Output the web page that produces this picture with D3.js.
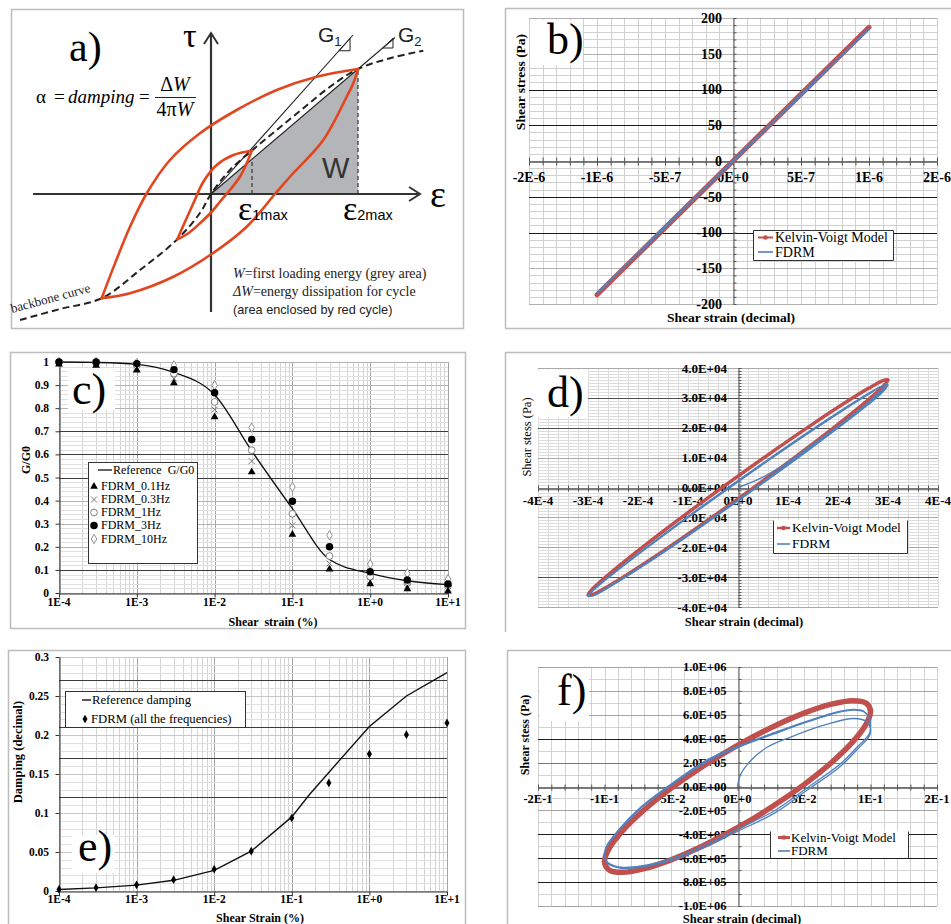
<!DOCTYPE html>
<html>
<head>
<meta charset="utf-8">
<title>hysteresis and damping figure</title>
<script src="https://cdnjs.cloudflare.com/ajax/libs/d3/7.8.5/d3.min.js"></script>
<style>
    body { margin: 0; background: #fff; }
    svg { display: block; }
    text { font-family: 'Liberation Serif', 'Times New Roman', serif; }
</style>
</head>
<body>
<svg id="fig" width="951" height="924"></svg>
<script>
// ==========================================================
// data

// panel a) sketch, units: eps2max = 1, tau at eps2max = 1
var bigLoopUpper = [[-0.744, -0.834], [-0.653, -0.555], [-0.551, -0.262], [-0.437, 0.006], [-0.279, 0.272],
    [-0.075, 0.486], [0.175, 0.672], [0.447, 0.832], [0.719, 0.938], [1.0, 1.0]];
var bigLoopLower = [[1.0, 1.0], [0.968, 0.886], [0.923, 0.778], [0.764, 0.432], [0.537, 0.138], [0.435, 0.0],
    [0.243, -0.262], [0.005, -0.48], [-0.256, -0.662], [-0.551, -0.794], [-0.744, -0.834]];
var smallLoopUpper = [[-0.229, -0.362], [-0.177, -0.222], [-0.120, -0.074], [-0.052, 0.098], [0.039, 0.232],
    [0.152, 0.312], [0.277, 0.346]];
var smallLoopLower = [[0.277, 0.346], [0.243, 0.246], [0.197, 0.138], [0.129, 0.032], [0.061, -0.062],
    [0.005, -0.142], [-0.075, -0.234], [-0.154, -0.314], [-0.229, -0.362]];
var backbone = [[-1.299, -1.008], [-1.027, -0.92], [-0.744, -0.834], [-0.483, -0.608], [-0.229, -0.362],
    [-0.075, -0.152], [0, 0], [0.129, 0.192], [0.277, 0.346], [0.447, 0.512], [0.628, 0.686], [0.81, 0.858],
    [1.0, 1.0], [1.218, 1.086], [1.444, 1.146]];
var greyArea = [[0, 0], [1, 1], [1, 0]];
var eps1max = 0.279;
var g1End = [0.966, 1.272];
var g2End = [1.252, 1.252];
var g1Tri = [[0.871, 1.146], [0.946, 1.146], [0.946, 1.244]];
var g2Tri = [[1.168, 1.168], [1.238, 1.168], [1.238, 1.246]];

// panel b)
var bStrain = [-1.0e-6, -5.0e-7, 0, 5.0e-7, 1.0e-6];
var bStressKV = [-187, -93.5, 0, 93.5, 187];
var bStressFDRM = [-185, -92.5, 0, 92.5, 185];
var bXTickVals = [-1.5e-6, -1e-6, -5e-7, 0, 5e-7, 1e-6, 1.5e-6];
var bXTickLabels = ['-2E-6', '-1E-6', '-5E-7', '0E+0', '5E-7', '1E-6', '2E-6'];
var bYTickVals = [200, 150, 100, 50, 0, -50, -100, -150, -200];

// panel c) G/G0
var logTickLabels = ['1E-4', '1E-3', '1E-2', '1E-1', '1E+0', '1E+1'];
var cStrain = [1e-4, 3e-4, 1e-3, 3e-3, 1e-2, 3e-2, 1e-1, 3e-1, 1, 3, 10];
var cRefG = [1.0, 0.998, 0.99, 0.955, 0.858, 0.615, 0.365, 0.145, 0.085, 0.053, 0.036];
var cG01 = [0.99, 0.985, 0.964, 0.909, 0.762, 0.524, 0.253, 0.103, 0.039, 0.017, 0.007];
var cG03 = [0.995, 0.99, 0.975, 0.928, 0.794, 0.571, 0.293, 0.128, 0.052, 0.03, 0.02];
var cG1 = [1.0, 0.995, 0.985, 0.95, 0.827, 0.618, 0.343, 0.16, 0.07, 0.042, 0.03];
var cG3 = [1.0, 1.0, 0.993, 0.967, 0.867, 0.664, 0.397, 0.2, 0.092, 0.056, 0.039];
var cG10 = [1.0, 1.0, 0.996, 0.985, 0.899, 0.716, 0.459, 0.25, 0.125, 0.085, 0.06];
var cSeriesNames = ['FDRM_0.1Hz', 'FDRM_0.3Hz', 'FDRM_1Hz', 'FDRM_3Hz', 'FDRM_10Hz'];
var cYTickVals = [0, 0.1, 0.2, 0.3, 0.4, 0.5, 0.6, 0.7, 0.8, 0.9, 1];
var cYTickLabels = ['0', '0.1', '0.2', '0.3', '0.4', '0.5', '0.6', '0.7', '0.8', '0.9', '1'];

// panel d) strain 3E-4
var dKV = [[-3.0e-4, -3.60e4], [-2.9e-4, -3.38e4], [-2.6e-4, -2.93e4], [-1.5e-4, -1.47e4], [0, 3.8e3],
    [1.5e-4, 2.13e4], [2.6e-4, 3.31e4], [2.9e-4, 3.58e4], [3.0e-4, 3.60e4], [2.9e-4, 3.38e4], [2.6e-4, 2.93e4],
    [1.5e-4, 1.47e4], [0, -3.8e3], [-1.5e-4, -2.13e4], [-2.6e-4, -3.31e4], [-2.9e-4, -3.58e4]];
var dFDRM = [[0, 0], [0.5e-4, 3.5e3], [1.0e-4, 8.5e3], [1.5e-4, 1.45e4], [2.0e-4, 2.05e4], [2.5e-4, 2.7e4],
    [2.9e-4, 3.3e4], [3.0e-4, 3.44e4],
    [2.9e-4, 3.24e4], [2.6e-4, 2.81e4], [1.5e-4, 1.40e4], [0, -4.1e3], [-1.5e-4, -2.15e4], [-2.6e-4, -3.33e4],
    [-2.9e-4, -3.62e4], [-3.0e-4, -3.64e4],
    [-2.9e-4, -3.46e4], [-2.6e-4, -3.03e4], [-1.5e-4, -1.62e4], [0, 1.9e3], [1.5e-4, 1.92e4], [2.6e-4, 3.11e4],
    [2.9e-4, 3.40e4], [3.0e-4, 3.44e4],
    [2.9e-4, 3.20e4], [2.6e-4, 2.77e4], [1.5e-4, 1.36e4], [0, -4.5e3], [-1.5e-4, -2.19e4], [-2.6e-4, -3.36e4],
    [-2.9e-4, -3.63e4], [-3.0e-4, -3.64e4],
    [-2.9e-4, -3.44e4], [-2.6e-4, -3.00e4], [-1.5e-4, -1.58e4], [0, 2.3e3], [1.5e-4, 1.96e4], [2.6e-4, 3.14e4],
    [2.9e-4, 3.42e4], [3.0e-4, 3.46e4]];
var dXTickVals = [-4e-4, -3e-4, -2e-4, -1e-4, 0, 1e-4, 2e-4, 3e-4, 4e-4];
var dXTickLabels = ['-4E-4', '-3E-4', '-2E-4', '-1E-4', '0E+0', '1E-4', '2E-4', '3E-4', '4E-4'];
var dYTickVals = [4e4, 3e4, 2e4, 1e4, 0, -1e4, -2e4, -3e4, -4e4];
var dYTickLabels = ['4.0E+04', '3.0E+04', '2.0E+04', '1.0E+04', '0.0E+00', '-1.0E+04', '-2.0E+04', '-3.0E+04', '-4.0E+04'];

// panel e) damping
var eRefStrain = [1e-4, 3e-4, 1e-3, 3e-3, 1e-2, 3e-2, 1e-1, 1.7e-1, 3e-1, 1, 3, 10];
var eRefDamping = [0.002, 0.004, 0.0075, 0.0137, 0.0265, 0.051, 0.095, 0.124, 0.152, 0.211, 0.25, 0.28];
var eStrain = [1e-4, 3e-4, 1e-3, 3e-3, 1e-2, 3e-2, 1e-1, 3e-1, 1, 3, 10];
var eFDRM = [0.002, 0.0043, 0.008, 0.0145, 0.028, 0.051, 0.0936, 0.1385, 0.1756, 0.2004, 0.2154];
var eYTickVals = [0, 0.05, 0.1, 0.15, 0.2, 0.25, 0.3];
var eYTickLabels = ['0', '0.05', '0.1', '0.15', '0.2', '0.25', '0.3'];

// panel f) strain 1E-1
var fKV = [[0, 3.45e5], [0.0259, 4.96e5], [0.05, 6.14e5], [0.0707, 6.89e5], [0.0866, 7.18e5], [0.0966, 6.98e5],
    [0.1, 6.3e5], [0.0966, 5.2e5], [0.0866, 3.73e5], [0.0707, 2.01e5], [0.05, 1.6e4], [0.0259, -1.7e5],
    [0, -3.45e5], [-0.0259, -4.96e5], [-0.05, -6.14e5], [-0.0707, -6.89e5], [-0.0866, -7.18e5], [-0.0966, -6.98e5],
    [-0.1, -6.3e5], [-0.0966, -5.2e5], [-0.0866, -3.73e5], [-0.0707, -2.01e5], [-0.05, -1.6e4], [-0.0259, 1.7e5]];
var fFDRM = [[0, 0], [0.0025, 1.04e5], [0.01, 2.17e5], [0.0225, 3.3e5], [0.04, 4.14e5], [0.065, 5.13e5],
    [0.0875, 5.69e5], [0.0975, 5.4e5], [0.1, 4.8e5],
    [0.099, 4.2e5], [0.09, 3.1e5], [0.0775, 1.7e5], [0.0525, -3e4], [0.0275, -2.25e5], [0, -3.75e5],
    [-0.0225, -5.0e5], [-0.0475, -6.1e5], [-0.0725, -6.75e5], [-0.0875, -6.85e5], [-0.0975, -6.45e5], [-0.1, -6.0e5],
    [-0.099, -5.2e5], [-0.09, -3.8e5], [-0.0725, -1.8e5], [-0.0475, 3e4], [-0.0225, 2.1e5], [0, 3.25e5],
    [0.0275, 4.4e5], [0.0525, 5.4e5], [0.0775, 6.25e5], [0.0875, 6.4e5], [0.095, 6.25e5], [0.099, 5.7e5], [0.1, 5.0e5],
    [0.099, 4.4e5], [0.09, 3.3e5], [0.0775, 1.9e5], [0.0525, -1e4], [0.0275, -2.05e5], [0, -3.55e5],
    [-0.0225, -4.8e5], [-0.0475, -5.95e5], [-0.0725, -6.65e5], [-0.0875, -6.75e5], [-0.0975, -6.35e5], [-0.1, -5.9e5],
    [-0.099, -5.1e5], [-0.09, -3.7e5], [-0.0725, -1.7e5], [-0.0475, 4e4], [-0.0225, 2.25e5], [0, 3.35e5],
    [0.0275, 4.5e5], [0.0525, 5.48e5], [0.0775, 6.3e5], [0.0875, 6.45e5], [0.095, 6.3e5], [0.099, 5.8e5], [0.1, 5.2e5]];
var fXTickVals = [-0.15, -0.1, -0.05, 0, 0.05, 0.1, 0.15];
var fXTickLabels = ['-2E-1', '-1E-1', '-5E-2', '0E+0', '5E-2', '1E-1', '2E-1'];
var fYTickVals = [1e6, 8e5, 6e5, 4e5, 2e5, 0, -2e5, -4e5, -6e5, -8e5, -1e6];
var fYTickLabels = ['1.0E+06', '8.0E+05', '6.0E+05', '4.0E+05', '2.0E+05', '0.0E+00', '-2.0E+05', '-4.0E+05',
    '-6.0E+05', '-8.0E+05', '-1.0E+06'];

// ==========================================================
// colours
var kvRed = '#c0504d';
var fdrmBlue = '#4f81bd';
var loopRed = '#e2461e';
var frameGrey = '#bdbdbd';
var sans = "'Liberation Sans', Arial, sans-serif";

var svg = d3.select('#fig');

// grid positions between two values
function steps(a, b, step) {
    var n = Math.round((b - a) / step);
    return d3.range(n + 1).map(i => +(a + i * step).toPrecision(10));
}

function crisp(v) {
    return Math.round(v) + 0.5;
}

function frameLines(segs) {
    svg.append('g').selectAll('line')
        .data(segs)
        .enter()
        .append('line')
        .attr('x1', d => d[0]).attr('y1', d => d[1])
        .attr('x2', d => d[2]).attr('y2', d => d[3])
        .attr('stroke', frameGrey)
        .attr('stroke-width', 1.5);
}

function rotTitle(g, x, y, txt, size, weight) {
    g.append('text')
        .attr('transform', `translate(${x}, ${y}) rotate(-90)`)
        .attr('text-anchor', 'middle')
        .attr('font-size', size)
        .attr('font-weight', weight)
        .text(txt);
}

function xTitle(g, x, y, txt, size) {
    g.append('text')
        .attr('x', x).attr('y', y)
        .attr('text-anchor', 'middle')
        .attr('font-size', size)
        .attr('font-weight', 'bold')
        .style('white-space', 'pre')
        .text(txt);
}

function panelTag(g, box, txt, tx, ty, size) {
    g.append('rect')
        .attr('x', box[0]).attr('y', box[1])
        .attr('width', box[2]).attr('height', box[3])
        .attr('fill', '#fff');
    g.append('text')
        .attr('x', tx).attr('y', ty)
        .attr('font-size', size)
        .text(txt);
}

// linear stress-strain panel (b, d, f)
function drawLinearPanel(p) {
    var g = svg.append('g');
    var x = d3.scaleLinear().domain(p.xDomain).range([p.left, p.right]);
    var y = d3.scaleLinear().domain(p.yDomain).range([p.bottom, p.top]);

    var xMinorTicks = steps(p.xDomain[0], p.xDomain[1], p.xMinor);
    var yMinorTicks = steps(p.yDomain[0], p.yDomain[1], p.yMinor);

    g.append('rect')
        .attr('x', p.left).attr('y', p.top)
        .attr('width', p.right - p.left).attr('height', p.bottom - p.top)
        .attr('fill', '#fff');

    // vertical minor grid
    g.append('g').selectAll('line')
        .data(xMinorTicks)
        .enter()
        .append('line')
        .attr('x1', d => crisp(x(d))).attr('x2', d => crisp(x(d)))
        .attr('y1', p.top).attr('y2', p.bottom)
        .attr('stroke', p.minorColor);

    // horizontal minor grid
    g.append('g').selectAll('line')
        .data(yMinorTicks)
        .enter()
        .append('line')
        .attr('x1', p.left).attr('x2', p.right)
        .attr('y1', d => crisp(y(d))).attr('y2', d => crisp(y(d)))
        .attr('stroke', p.minorColor);

    // major horizontal lines, some of them come out much darker in the scan
    g.append('g').selectAll('line')
        .data(p.yTickVals.filter(v => v !== 0))
        .enter()
        .append('line')
        .attr('x1', p.left).attr('x2', p.right)
        .attr('y1', d => crisp(y(d))).attr('y2', d => crisp(y(d)))
        .attr('stroke', d => p.darkY.indexOf(d) >= 0 ? p.darkColor :
            (p.midY.indexOf(d) >= 0 ? '#777' : p.majorColor));

    // axes through zero
    var y0 = crisp(y(0));
    var x0 = crisp(x(0));
    g.append('g')
        .attr('transform', `translate(0, ${y0})`)
        .attr('color', '#555')
        .call(d3.axisBottom(x).tickValues(xMinorTicks).tickSize(p.tick).tickSizeOuter(0).tickFormat(''));
    g.append('g')
        .attr('transform', `translate(0, ${y0})`)
        .attr('color', '#555')
        .call(d3.axisTop(x).tickValues(xMinorTicks).tickSize(p.tick).tickSizeOuter(0).tickFormat(''));
    g.append('g')
        .attr('transform', `translate(${x0}, 0)`)
        .attr('color', '#555')
        .call(d3.axisRight(y).tickValues(yMinorTicks).tickSize(3).tickSizeOuter(0).tickFormat(''));

    // tick labels
    g.append('g').selectAll('text')
        .data(p.xTickVals)
        .enter()
        .append('text')
        .attr('x', d => x(d))
        .attr('y', y(0) + p.xLabelDy)
        .attr('text-anchor', 'middle')
        .attr('font-weight', 'bold')
        .attr('font-size', p.fontSize)
        .text((d, i) => p.xTickLabels[i]);

    g.append('g').selectAll('text')
        .data(p.yTickVals)
        .enter()
        .append('text')
        .attr('x', x(0) - p.yLabelDx)
        .attr('y', d => y(d))
        .attr('dy', '0.35em')
        .attr('text-anchor', 'end')
        .attr('font-weight', 'bold')
        .attr('font-size', p.fontSize)
        .text((d, i) => p.yTickLabels[i]);

    return { g: g, x: x, y: y };
}

// semi-log panel (c, e)
function drawLogPanel(p) {
    var g = svg.append('g');
    var x = d3.scaleLog().domain([1e-4, 10]).range([p.left, p.right]);
    var y = d3.scaleLinear().domain(p.yDomain).range([p.bottom, p.top]);

    var allX = x.ticks();
    var decades = allX.filter(v => Math.abs(Math.log10(v) - Math.round(Math.log10(v))) < 1e-6);

    g.append('g').selectAll('line')
        .data(allX)
        .enter()
        .append('line')
        .attr('x1', d => crisp(x(d))).attr('x2', d => crisp(x(d)))
        .attr('y1', p.top).attr('y2', p.bottom)
        .attr('stroke', d => decades.indexOf(d) >= 0 ? '#a4a4a4' : '#d4d4d4');

    g.append('g').selectAll('line')
        .data(steps(p.yDomain[0], p.yDomain[1], p.yMinor))
        .enter()
        .append('line')
        .attr('x1', p.left).attr('x2', p.right)
        .attr('y1', d => crisp(y(d))).attr('y2', d => crisp(y(d)))
        .attr('stroke', '#e0e0e0');

    g.append('g').selectAll('line')
        .data(p.yTickVals)
        .enter()
        .append('line')
        .attr('x1', p.left).attr('x2', p.right)
        .attr('y1', d => crisp(y(d))).attr('y2', d => crisp(y(d)))
        .attr('stroke', p.majorColor);

    g.append('g').selectAll('line')
        .data(p.darkY)
        .enter()
        .append('line')
        .attr('x1', p.left).attr('x2', p.right)
        .attr('y1', d => crisp(y(d))).attr('y2', d => crisp(y(d)))
        .attr('stroke', '#3c3c3c');

    // left and bottom axes
    g.append('g')
        .attr('transform', `translate(${crisp(p.left)}, 0)`)
        .attr('color', '#333')
        .call(d3.axisLeft(y).tickValues(p.yTickVals).tickSize(4).tickSizeOuter(0).tickFormat(''));
    g.append('g')
        .attr('transform', `translate(0, ${crisp(y(0))})`)
        .attr('color', '#333')
        .call(d3.axisBottom(x).tickValues(decades).tickSize(4).tickSizeOuter(0).tickFormat(''));

    g.append('g').selectAll('text')
        .data(decades)
        .enter()
        .append('text')
        .attr('x', d => x(d))
        .attr('y', p.xLabelY)
        .attr('text-anchor', 'middle')
        .attr('font-weight', 'bold')
        .attr('font-size', p.fontSize)
        .text((d, i) => logTickLabels[i]);

    g.append('g').selectAll('text')
        .data(p.yTickVals)
        .enter()
        .append('text')
        .attr('x', p.left - 10)
        .attr('y', d => y(d))
        .attr('dy', '0.35em')
        .attr('text-anchor', 'end')
        .attr('font-weight', 'bold')
        .attr('font-size', p.fontSize)
        .text((d, i) => p.yTickLabels[i]);

    return { g: g, x: x, y: y };
}

// legend for the Kelvin-Voigt / FDRM panels
function kvLegend(g, box, rows, lineX, textX, size, kvWidth, sides) {
    g.append('rect')
        .attr('x', box[0]).attr('y', box[1])
        .attr('width', box[2]).attr('height', box[3])
        .attr('fill', '#fff');
    var x1 = box[0] + 0.5, y1 = box[1] + 0.5, x2 = box[0] + box[2] + 0.5, y2 = box[1] + box[3] + 0.5;
    var segs = { top: [x1, y1, x2, y1], bottom: [x1, y2, x2, y2], left: [x1, y1, x1, y2], right: [x2, y1, x2, y2] };
    sides.forEach(s => {
        g.append('line')
            .attr('x1', segs[s][0]).attr('y1', segs[s][1]).attr('x2', segs[s][2]).attr('y2', segs[s][3])
            .attr('stroke', '#333');
    });
    g.append('line')
        .attr('x1', lineX[0]).attr('x2', lineX[1]).attr('y1', rows[0]).attr('y2', rows[0])
        .attr('stroke', kvRed).attr('stroke-width', kvWidth);
    g.append('circle')
        .attr('cx', (lineX[0] + lineX[1]) / 2).attr('cy', rows[0]).attr('r', 2.3)
        .attr('fill', kvRed);
    g.append('line')
        .attr('x1', lineX[0]).attr('x2', lineX[1]).attr('y1', rows[1]).attr('y2', rows[1])
        .attr('stroke', fdrmBlue).attr('stroke-width', 1.6);
    g.append('text').attr('x', textX).attr('y', rows[0]).attr('dy', '0.33em')
        .attr('font-size', size).text('Kelvin-Voigt Model');
    g.append('text').attr('x', textX).attr('y', rows[1]).attr('dy', '0.33em')
        .attr('font-size', size).text('FDRM');
}

// ==========================================================
// panel a) : the hysteresis sketch

var a = svg.append('g');
a.append('rect')
    .attr('x', 11.5).attr('y', 9.5)
    .attr('width', 452).attr('height', 319)
    .attr('fill', '#fff')
    .attr('stroke', frameGrey)
    .attr('stroke-width', 1.5);

var ax = d3.scaleLinear().domain([0, 1]).range([211, 358]);
var ay = d3.scaleLinear().domain([0, 1]).range([194, 69]);
var aLine = d3.line().x(d => ax(d[0])).y(d => ay(d[1]));
var aCurve = d3.line().x(d => ax(d[0])).y(d => ay(d[1])).curve(d3.curveCatmullRom.alpha(0.5));

// grey first loading energy
a.append('path')
    .attr('d', aLine(greyArea) + 'Z')
    .attr('fill', '#b4b5b8');

// dashed verticals at eps1max and eps2max
[[eps1max, eps1max], [1, 1]].forEach(v => {
    a.append('line')
        .attr('x1', ax(v[0])).attr('x2', ax(v[0]))
        .attr('y1', ay(0)).attr('y2', ay(v[1]))
        .attr('stroke', '#333').attr('stroke-width', 1.2)
        .attr('stroke-dasharray', '4,3');
});

// secant lines G1, G2 with slope triangles
[g1End, g2End].forEach(e => {
    a.append('path')
        .attr('d', aLine([[0, 0], e]))
        .attr('stroke', '#222').attr('stroke-width', 1.1).attr('fill', 'none');
});
[g1Tri, g2Tri].forEach(t => {
    a.append('path')
        .attr('d', aLine(t) + 'Z')
        .attr('stroke', '#222').attr('stroke-width', 1).attr('fill', 'none');
});

// axes with open arrow heads
var axRight = ax(1.422), axLeft = ax(-1.211), ayTop = ay(1.288), ayBottom = ay(-0.944);
a.append('line').attr('x1', axLeft).attr('x2', axRight).attr('y1', ay(0)).attr('y2', ay(0))
    .attr('stroke', '#333').attr('stroke-width', 2.2);
a.append('line').attr('x1', ax(0)).attr('x2', ax(0)).attr('y1', ayBottom).attr('y2', ayTop)
    .attr('stroke', '#333').attr('stroke-width', 2.2);
a.append('path')
    .attr('d', `M${axRight - 11},${ay(0) - 7}L${axRight},${ay(0)}L${axRight - 11},${ay(0) + 7}`)
    .attr('fill', 'none').attr('stroke', '#333').attr('stroke-width', 2);
a.append('path')
    .attr('d', `M${ax(0) - 7},${ayTop + 11}L${ax(0)},${ayTop}L${ax(0) + 7},${ayTop + 11}`)
    .attr('fill', 'none').attr('stroke', '#333').attr('stroke-width', 2);

// backbone curve
a.append('path')
    .attr('d', aCurve(backbone))
    .attr('fill', 'none')
    .attr('stroke', '#222')
    .attr('stroke-width', 2)
    .attr('stroke-dasharray', '7,4');

// red cycles
[bigLoopUpper, bigLoopLower, smallLoopUpper, smallLoopLower].forEach(l => {
    a.append('path')
        .attr('d', aCurve(l))
        .attr('fill', 'none')
        .attr('stroke', loopRed)
        .attr('stroke-width', 2.6)
        .attr('stroke-linecap', 'round');
});

// texts of the sketch
a.append('text').attr('x', 69).attr('y', 61).attr('font-size', 42).text('a)');
a.append('text').attr('x', 183).attr('y', 47).attr('font-size', 34).text('τ');
a.append('text').attr('x', 430).attr('y', 207).attr('font-size', 38).text('ε');

function epsLabel(x, sub) {
    var t = a.append('text').attr('x', x).attr('y', 220);
    t.append('tspan').attr('font-size', 34).text('ε');
    t.append('tspan').attr('font-size', 14.5)
        .style('font-family', sans)
        .text(sub);
}
epsLabel(238, '1max');
epsLabel(343, '2max');

function gLabel(x, sub) {
    var t = a.append('text').attr('x', x).attr('y', 42)
        .style('font-family', sans)
        .attr('fill', '#222');
    t.append('tspan').attr('font-size', 21).text('G');
    t.append('tspan').attr('font-size', 13).attr('dy', 4).text(sub);
}
gLabel(318, '1');
gLabel(398, '2');

a.append('text')
    .attr('x', 322).attr('y', 178)
    .attr('font-size', 29)
    .style('font-family', sans)
    .attr('fill', '#333')
    .text('W');

// damping formula
var fm = a.append('text').attr('y', 103).attr('font-size', 19);
fm.append('tspan').attr('x', 36).text('α');
fm.append('tspan').attr('x', 54).text('=');
fm.append('tspan').attr('x', 68).attr('font-style', 'italic').text('damping');
fm.append('tspan').attr('x', 139).text('=');
a.append('line').attr('x1', 155).attr('x2', 196).attr('y1', 97.5).attr('y2', 97.5)
    .attr('stroke', '#222').attr('stroke-width', 1);
var num = a.append('text').attr('x', 175).attr('y', 91).attr('text-anchor', 'middle').attr('font-size', 20);
num.append('tspan').text('Δ');
num.append('tspan').attr('font-style', 'italic').text('W');
var den = a.append('text').attr('x', 175).attr('y', 116).attr('text-anchor', 'middle').attr('font-size', 20);
den.append('tspan').text('4π');
den.append('tspan').attr('font-style', 'italic').text('W');

// notes at the bottom
var n1 = a.append('text').attr('x', 233).attr('y', 278).attr('font-size', 14).attr('fill', '#222');
n1.append('tspan').attr('font-style', 'italic').text('W');
n1.append('tspan').text('=first loading energy (grey area)');
var n2 = a.append('text').attr('x', 233).attr('y', 296).attr('font-size', 14).attr('fill', '#222');
n2.append('tspan').attr('font-style', 'italic').text('ΔW');
n2.append('tspan').text('=energy dissipation for cycle');
a.append('text').attr('x', 233).attr('y', 314)
    .attr('font-size', 12.7)
    .style('font-family', sans)
    .attr('fill', '#222')
    .text('(area enclosed by red cycle)');
a.append('text')
    .attr('transform', 'translate(12, 313) rotate(-15)')
    .attr('font-size', 13)
    .attr('fill', '#222')
    .text('backbone curve');

// ==========================================================
// panel b)

frameLines([[505, 8.5, 951, 8.5], [505.5, 8, 505.5, 328], [505, 328.5, 951, 328.5]]);

var b = drawLinearPanel({
    left: 529, right: 937, top: 18, bottom: 304,
    xDomain: [-1.5e-6, 1.5e-6], yDomain: [-200, 200],
    xMinor: 1e-7, yMinor: 10, tick: 4,
    xTickVals: bXTickVals, xTickLabels: bXTickLabels,
    yTickVals: bYTickVals, yTickLabels: bYTickVals.map(String),
    darkY: [100, 50, -50, -100], midY: [],
    minorColor: '#d0d0d0', majorColor: '#b0b0b0', darkColor: '#1a1a1a',
    fontSize: 14, xLabelDy: 21, yLabelDx: 11
});
panelTag(b.g, [530, 20, 53, 45], 'b)', 547, 54, 44);
rotTitle(b.g, 525, 82, 'Shear stress (Pa)', 13.5, 'bold');
xTitle(b.g, 731, 322, 'Shear strain (decimal)', 13.5);

var bLine = d3.line().x(d => b.x(d[0])).y(d => b.y(d[1]));
b.g.append('path')
    .attr('d', bLine(d3.zip(bStrain, bStressKV)))
    .attr('fill', 'none').attr('stroke', kvRed).attr('stroke-width', 5).attr('stroke-linecap', 'round');
b.g.append('path')
    .attr('d', bLine(d3.zip(bStrain, bStressFDRM)))
    .attr('fill', 'none').attr('stroke', fdrmBlue).attr('stroke-width', 2.2);
kvLegend(b.g, [753, 230, 140, 30], [237.5, 252], [758, 773], 775, 14, 2, ['top', 'bottom', 'left', 'right']);

// ==========================================================
// panel c)

svg.append('rect')
    .attr('x', 10.5).attr('y', 352.5).attr('width', 455).attr('height', 276)
    .attr('fill', '#fff').attr('stroke', frameGrey).attr('stroke-width', 1.5);

var c = drawLogPanel({
    left: 59, right: 448, top: 362, bottom: 593,
    yDomain: [0, 1], yMinor: 0.02,
    yTickVals: cYTickVals, yTickLabels: cYTickLabels,
    majorColor: '#b4b4b4', darkY: [0.1, 0.5, 0.6, 0.7],
    xLabelY: 606, fontSize: 11.5
});
panelTag(c.g, [68, 368, 47, 42], 'c)', 72, 404, 44);
rotTitle(c.g, 30, 460, 'G/G0', 12, 'bold');
xTitle(c.g, 273, 626, 'Shear  strain (%)', 12);

c.g.append('path')
    .attr('d', d3.line().x(d => c.x(d[0])).y(d => c.y(d[1])).curve(d3.curveMonotoneX)(d3.zip(cStrain, cRefG)))
    .attr('fill', 'none').attr('stroke', '#111').attr('stroke-width', 1.3);

function markerPath(sel, shape) {
    if (shape === 'triangle') {
        sel.attr('d', d3.symbol(d3.symbolTriangle, 26)()).attr('fill', '#000');
    } else if (shape === 'cross') {
        sel.attr('d', 'M-3,-3L3,3M-3,3L3,-3').attr('fill', 'none').attr('stroke', '#777').attr('stroke-width', 1);
    } else if (shape === 'ring') {
        sel.attr('d', d3.symbol(d3.symbolCircle, 36)()).attr('fill', '#fff').attr('stroke', '#808080');
    } else if (shape === 'dot') {
        sel.attr('d', d3.symbol(d3.symbolCircle, 44)()).attr('fill', '#000');
    } else if (shape === 'diamond') {
        sel.attr('d', d3.symbol(d3.symbolDiamond, 26)()).attr('fill', '#fff').attr('stroke', '#909090');
    } else if (shape === 'soliddiamond') {
        sel.attr('d', d3.symbol(d3.symbolDiamond, 22)()).attr('fill', '#000');
    }
}

var cShapes = ['triangle', 'cross', 'ring', 'dot', 'diamond'];
var cValues = [cG01, cG03, cG1, cG3, cG10];
// draw order so the black ones stay on top
[4, 2, 1, 3, 0].forEach(k => {
    c.g.append('g').selectAll('path')
        .data(d3.zip(cStrain, cValues[k]))
        .enter()
        .append('path')
        .attr('transform', d => `translate(${c.x(d[0])}, ${c.y(d[1])})`)
        .call(markerPath, cShapes[k]);
});

// legend c
c.g.append('rect')
    .attr('x', 88.5).attr('y', 462.5).attr('width', 109).attr('height', 101)
    .attr('fill', '#fff').attr('stroke', '#333');
var cRows = [470, 486.5, 499.5, 512.5, 525.5, 539];
c.g.append('line').attr('x1', 98).attr('x2', 112).attr('y1', cRows[0]).attr('y2', cRows[0])
    .attr('stroke', '#111').attr('stroke-width', 1.3);
c.g.append('text').attr('x', 113).attr('y', cRows[0]).attr('dy', '0.33em')
    .attr('font-size', 12).style('white-space', 'pre')
    .text('Reference  G/G0');
cSeriesNames.forEach((nm, k) => {
    c.g.append('path')
        .attr('transform', `translate(94, ${cRows[k + 1]})`)
        .call(markerPath, cShapes[k]);
    c.g.append('text').attr('x', 101).attr('y', cRows[k + 1]).attr('dy', '0.33em')
        .attr('font-size', 12).text(nm);
});

// ==========================================================
// panel d)

frameLines([[505, 352.5, 951, 352.5], [505.5, 352, 505.5, 632]]);

var d = drawLinearPanel({
    left: 538, right: 938, top: 368, bottom: 607,
    xDomain: [-4e-4, 4e-4], yDomain: [-4e4, 4e4],
    xMinor: 2e-5, yMinor: 1e3, tick: 3,
    xTickVals: dXTickVals, xTickLabels: dXTickLabels,
    yTickVals: dYTickVals, yTickLabels: dYTickLabels,
    darkY: [3e4, 2e4, -3e4], midY: [],
    minorColor: '#dcdcdc', majorColor: '#a8a8a8', darkColor: '#505050',
    fontSize: 13, xLabelDy: 17.5, yLabelDx: 11
});
panelTag(d.g, [538, 370, 50, 47], 'd)', 547, 407, 44);
rotTitle(d.g, 531, 437, 'Shear stess (Pa)', 12.5, 'normal');
xTitle(d.g, 744, 626, 'Shear strain (decimal)', 12.5);

var dClosed = d3.line().x(p => d.x(p[0])).y(p => d.y(p[1])).curve(d3.curveCatmullRomClosed.alpha(0.5));
var dOpen = d3.line().x(p => d.x(p[0])).y(p => d.y(p[1])).curve(d3.curveCatmullRom.alpha(0.5));
d.g.append('path').attr('d', dClosed(dKV))
    .attr('fill', 'none').attr('stroke', kvRed).attr('stroke-width', 3.5);
d.g.append('path').attr('d', dOpen(dFDRM))
    .attr('fill', 'none').attr('stroke', fdrmBlue).attr('stroke-width', 1.4);
kvLegend(d.g, [773, 520, 134, 33], [528, 544], [777, 790], 792, 13.5, 2.5, ['bottom', 'left', 'right']);

// ==========================================================
// panel e)

svg.append('rect')
    .attr('x', 8.5).attr('y', 650.5).attr('width', 457).attr('height', 280)
    .attr('fill', '#fff').attr('stroke', frameGrey).attr('stroke-width', 1.5);

var e = drawLogPanel({
    left: 59, right: 447, top: 657, bottom: 891,
    yDomain: [0, 0.3], yMinor: 0.01,
    yTickVals: eYTickVals, yTickLabels: eYTickLabels,
    majorColor: '#c8c8c8', darkY: [0.12, 0.17, 0.21, 0.27],
    xLabelY: 903, fontSize: 11.5
});
panelTag(e.g, [72, 835, 43, 38], 'e)', 78, 861, 44);
rotTitle(e.g, 22, 752, 'Damping (decimal)', 12.5, 'bold');
xTitle(e.g, 260, 922, 'Shear Strain (%)', 12);

e.g.append('path')
    .attr('d', d3.line().x(p => e.x(p[0])).y(p => e.y(p[1]))(d3.zip(eRefStrain, eRefDamping)))
    .attr('fill', 'none').attr('stroke', '#111').attr('stroke-width', 1.4);
e.g.append('g').selectAll('path')
    .data(d3.zip(eStrain, eFDRM))
    .enter()
    .append('path')
    .attr('transform', p => `translate(${e.x(p[0])}, ${e.y(p[1])})`)
    .call(markerPath, 'soliddiamond');

// legend e
e.g.append('rect')
    .attr('x', 65.5).attr('y', 691.5).attr('width', 180).attr('height', 36)
    .attr('fill', '#fff').attr('stroke', '#333');
e.g.append('line').attr('x1', 82).attr('x2', 91).attr('y1', 700).attr('y2', 700)
    .attr('stroke', '#111').attr('stroke-width', 1.4);
e.g.append('text').attr('x', 92).attr('y', 700).attr('dy', '0.33em').attr('font-size', 12.7)
    .text('Reference damping');
e.g.append('path').attr('transform', 'translate(85, 719)').call(markerPath, 'soliddiamond');
e.g.append('text').attr('x', 91).attr('y', 719).attr('dy', '0.33em').attr('font-size', 12.7)
    .text('FDRM (all the frequencies)');

// ==========================================================
// panel f)

frameLines([[507, 650.5, 951, 650.5], [507.5, 650, 507.5, 924]]);

var f = drawLinearPanel({
    left: 538, right: 937, top: 667, bottom: 906,
    xDomain: [-0.15, 0.15], yDomain: [-1e6, 1e6],
    xMinor: 0.01, yMinor: 1e5, tick: 3,
    xTickVals: fXTickVals, xTickLabels: fXTickLabels,
    yTickVals: fYTickVals, yTickLabels: fYTickLabels,
    darkY: [4e5, -4e5, -6e5, -8e5], midY: [2e5],
    minorColor: '#d2d2d2', majorColor: '#a4a4a4', darkColor: '#1e1e1e',
    fontSize: 12.5, xLabelDy: 16.5, yLabelDx: 11
});
panelTag(f.g, [539, 668, 50, 53], 'f)', 557, 705, 44);
rotTitle(f.g, 529, 735, 'Shear stess (Pa)', 12, 'bold');
xTitle(f.g, 742, 922.5, 'Shear strain (decimal)', 12.5);

var fClosed = d3.line().x(p => f.x(p[0])).y(p => f.y(p[1])).curve(d3.curveCatmullRomClosed.alpha(0.5));
var fOpen = d3.line().x(p => f.x(p[0])).y(p => f.y(p[1])).curve(d3.curveCatmullRom.alpha(0.5));
f.g.append('path').attr('d', fClosed(fKV))
    .attr('fill', 'none').attr('stroke', kvRed).attr('stroke-width', 5.5);
f.g.append('path').attr('d', fOpen(fFDRM))
    .attr('fill', 'none').attr('stroke', fdrmBlue).attr('stroke-width', 1.3);
kvLegend(f.g, [770, 831, 138, 27], [837.5, 851], [778, 790], 791, 13, 3, ['left', 'right']);
</script>
</body>
</html>
